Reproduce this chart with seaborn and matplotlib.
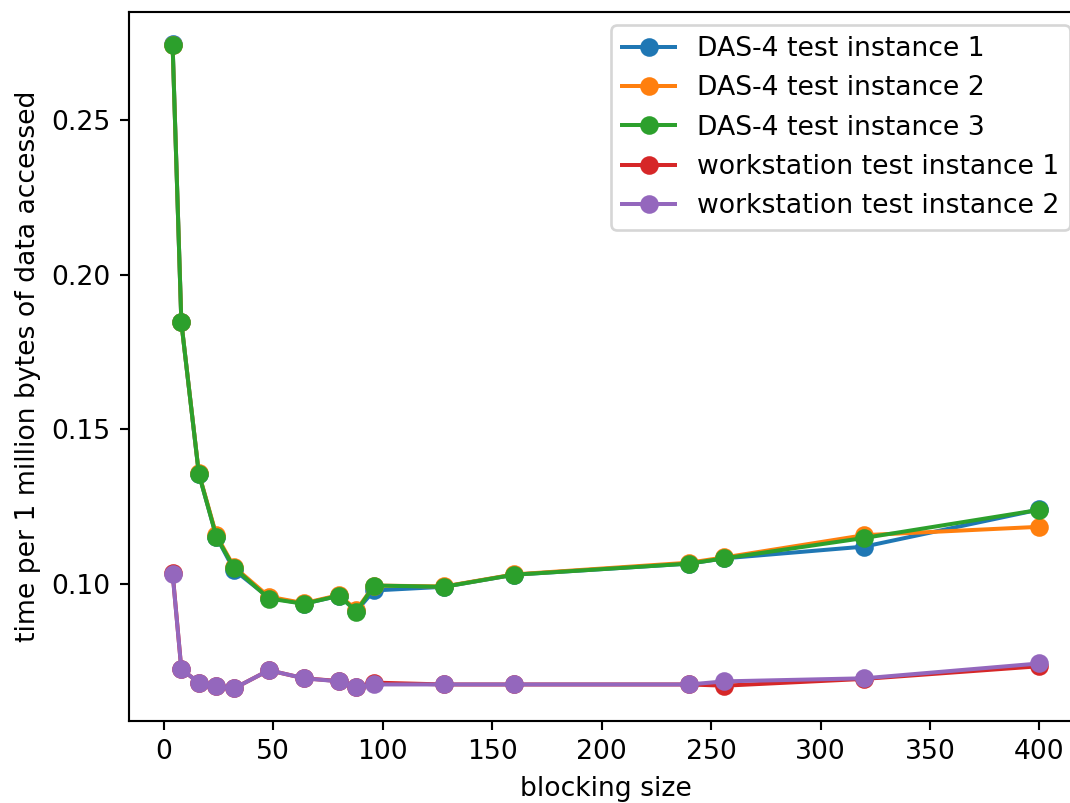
import pandas as pd
import seaborn as sns
from matplotlib import pyplot as plt

# blocking sizes tested
block_sizes = [4, 8, 16, 24, 32, 48, 64, 80, 88, 96, 128, 160, 240, 256, 320, 400]

# time per 1M bytes
das4_run1 = [0.2745, 0.1845, 0.1355, 0.1152, 0.1045, 0.0955, 0.0935, 0.0961, 0.0912, 0.0978,
             0.0990, 0.1029, 0.1065, 0.1082, 0.1120, 0.1240]
das4_run2 = [0.2742, 0.1845, 0.1357, 0.1157, 0.1055, 0.0958, 0.0937, 0.0963, 0.0915, 0.0994,
             0.0991, 0.1030, 0.1068, 0.1085, 0.1157, 0.1184]
das4_run3 = [0.2742, 0.1845, 0.1355, 0.1152, 0.1052, 0.0952, 0.0935, 0.0961, 0.0910, 0.0994,
             0.0990, 0.1029, 0.1065, 0.1082, 0.1148, 0.1239]
ws_run1 = [0.1035, 0.0723, 0.0680, 0.0668, 0.0661, 0.0720, 0.0694, 0.0685, 0.0666, 0.0680,
           0.0674, 0.0674, 0.0674, 0.0670, 0.0692, 0.0733]
ws_run2 = [0.1032, 0.0723, 0.0680, 0.0668, 0.0661, 0.0720, 0.0694, 0.0684, 0.0665, 0.0674,
           0.0674, 0.0674, 0.0674, 0.0684, 0.0694, 0.0742]

labels = ['DAS-4 test instance 1', 'DAS-4 test instance 2', 'DAS-4 test instance 3',
          'workstation test instance 1', 'workstation test instance 2']
series = [das4_run1, das4_run2, das4_run3, ws_run1, ws_run2]

# long format for seaborn
rows = []
for lab, vals in zip(labels, series):
    for b, v in zip(block_sizes, vals):
        rows.append({'block': b, 'time': v, 'run': lab})
df = pd.DataFrame(rows)

dpi = 191.4
fig, ax = plt.subplots(figsize=(1070 / dpi, 803 / dpi), dpi=dpi)
# original image is cropped on the right, so the axes run past the edge
fig.subplots_adjust(left=0.1208, right=1.012, top=0.985, bottom=0.1025)

sns.lineplot(data=df, x='block', y='time', hue='run', hue_order=labels,
             palette='tab10', marker='o', markersize=6, markeredgewidth=1,
             linewidth=1.5, ax=ax, sort=False)
# plain matplotlib look: marker edge same colour as the line
for ln in ax.lines:
    ln.set_markeredgecolor(ln.get_color())

ax.set_xlabel('blocking size')
ax.set_ylabel('time per 1 million bytes of data accessed')
ax.set_xticks([0, 50, 100, 150, 200, 250, 300, 350, 400])
ax.set_yticks([0.10, 0.15, 0.20, 0.25])
ax.legend(loc='upper right')
for ln in ax.get_legend().get_lines():
    ln.set_markeredgecolor(ln.get_color())

plt.savefig('out.png')
